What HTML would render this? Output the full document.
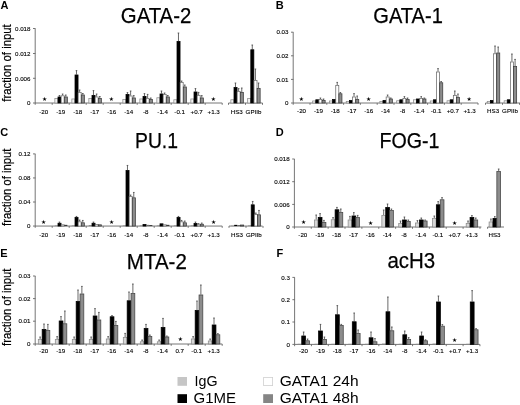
<!DOCTYPE html>
<html><head><meta charset="utf-8"><title>ChIP figure</title>
<style>
html,body{margin:0;padding:0;background:#fff;}
body{width:520px;height:405px;overflow:hidden;}
svg{display:block;font-family:"Liberation Sans","DejaVu Sans",sans-serif;filter:blur(0.5px);}
</style></head><body>
<svg width="520" height="405" viewBox="0 0 520 405">
<rect width="520" height="405" fill="#fff"/>
<text x="0.6" y="9" font-size="11" font-weight="bold" fill="#000">A</text>
<text x="120.8" y="23" font-size="22.5" stroke="#000" stroke-width="0.25" textLength="70.5" lengthAdjust="spacingAndGlyphs" fill="#000">GATA-2</text>
<path d="M35.2 28.5 V103 H222.2" stroke="#666" stroke-width="0.9" fill="none"/>
<text x="30.5" y="105.2" font-size="6.2" text-anchor="end" fill="#000" stroke="#000" stroke-width="0.12">0</text>
<text x="30.5" y="80.5" font-size="6.2" text-anchor="end" fill="#000" stroke="#000" stroke-width="0.12">0.006</text>
<text x="30.5" y="55.7" font-size="6.2" text-anchor="end" fill="#000" stroke="#000" stroke-width="0.12">0.012</text>
<text x="30.5" y="30.7" font-size="6.2" text-anchor="end" fill="#000" stroke="#000" stroke-width="0.12">0.018</text>
<path d="M33 103 h2.4M33 78.3 h2.4M33 53.5 h2.4M33 28.5 h2.4M35.2 103 v1.8M52.2 103 v1.8M69.2 103 v1.8M86.2 103 v1.8M103.2 103 v1.8M120.2 103 v1.8M137.2 103 v1.8M154.2 103 v1.8M171.2 103 v1.8M188.2 103 v1.8M205.2 103 v1.8M222.2 103 v1.8M228.5 103 H262.5M228.5 103 v1.8M245.5 103 v1.8M262.5 103 v1.8" stroke="#666" stroke-width="0.9" fill="none"/>
<text transform="translate(11 101.7) rotate(-90)" font-size="12.2" stroke="#000" stroke-width="0.2" textLength="77.4" lengthAdjust="spacingAndGlyphs" fill="#000">fraction of input</text>
<text x="43.7" y="113.6" font-size="6.2" text-anchor="middle" fill="#000" stroke="#000" stroke-width="0.12">-20</text>
<text x="44.7" y="101.15" font-size="5.8" text-anchor="middle" fill="#000">★</text>
<text x="60.7" y="113.6" font-size="6.2" text-anchor="middle" fill="#000" stroke="#000" stroke-width="0.12">-19</text>
<rect x="54.85" y="98.37" width="3.05" height="4.63" fill="#f4f4f4" stroke="#8a8a8a" stroke-width="0.75"/>
<path d="M59.48 96.6 V95.5 M58.68 95.5 h1.6" stroke="#444" stroke-width="0.8" fill="none"/>
<rect x="58" y="96.97" width="3.05" height="6.03" fill="#000" stroke="#000" stroke-width="0.75"/>
<path d="M62.62 95.4 V94 M61.83 94 h1.6" stroke="#444" stroke-width="0.8" fill="none"/>
<rect x="61.15" y="95.77" width="3.05" height="7.23" fill="#fff" stroke="#6a6a6a" stroke-width="0.75"/>
<path d="M65.78 96.6 V95 M64.98 95 h1.6" stroke="#444" stroke-width="0.8" fill="none"/>
<rect x="64.3" y="96.97" width="3.05" height="6.03" fill="#8c8c8c" stroke="#3a3a3a" stroke-width="0.75"/>
<text x="77.7" y="113.6" font-size="6.2" text-anchor="middle" fill="#000" stroke="#000" stroke-width="0.12">-18</text>
<rect x="71.85" y="98.97" width="3.05" height="4.03" fill="#f4f4f4" stroke="#8a8a8a" stroke-width="0.75"/>
<path d="M76.48 74.6 V70.6 M75.68 70.6 h1.6" stroke="#444" stroke-width="0.8" fill="none"/>
<rect x="75" y="74.97" width="3.05" height="28.03" fill="#000" stroke="#000" stroke-width="0.75"/>
<path d="M79.62 92 V90 M78.83 90 h1.6" stroke="#444" stroke-width="0.8" fill="none"/>
<rect x="78.15" y="92.37" width="3.05" height="10.63" fill="#fff" stroke="#6a6a6a" stroke-width="0.75"/>
<path d="M82.78 94.6 V93.5 M81.98 93.5 h1.6" stroke="#444" stroke-width="0.8" fill="none"/>
<rect x="81.3" y="94.97" width="3.05" height="8.03" fill="#8c8c8c" stroke="#3a3a3a" stroke-width="0.75"/>
<text x="94.7" y="113.6" font-size="6.2" text-anchor="middle" fill="#000" stroke="#000" stroke-width="0.12">-17</text>
<rect x="88.85" y="98.37" width="3.05" height="4.63" fill="#f4f4f4" stroke="#8a8a8a" stroke-width="0.75"/>
<path d="M93.48 95 V90.6 M92.68 90.6 h1.6" stroke="#444" stroke-width="0.8" fill="none"/>
<rect x="92" y="95.37" width="3.05" height="7.63" fill="#000" stroke="#000" stroke-width="0.75"/>
<path d="M96.62 96.6 V94 M95.83 94 h1.6" stroke="#444" stroke-width="0.8" fill="none"/>
<rect x="95.15" y="96.97" width="3.05" height="6.03" fill="#fff" stroke="#6a6a6a" stroke-width="0.75"/>
<path d="M99.78 98 V96.5 M98.98 96.5 h1.6" stroke="#444" stroke-width="0.8" fill="none"/>
<rect x="98.3" y="98.37" width="3.05" height="4.63" fill="#8c8c8c" stroke="#3a3a3a" stroke-width="0.75"/>
<text x="111.7" y="113.6" font-size="6.2" text-anchor="middle" fill="#000" stroke="#000" stroke-width="0.12">-16</text>
<text x="111.4" y="101.05" font-size="5.8" text-anchor="middle" fill="#000">★</text>
<text x="128.7" y="113.6" font-size="6.2" text-anchor="middle" fill="#000" stroke="#000" stroke-width="0.12">-14</text>
<rect x="122.85" y="99.37" width="3.05" height="3.63" fill="#f4f4f4" stroke="#8a8a8a" stroke-width="0.75"/>
<path d="M127.48 94 V92.6 M126.68 92.6 h1.6" stroke="#444" stroke-width="0.8" fill="none"/>
<rect x="126" y="94.37" width="3.05" height="8.63" fill="#000" stroke="#000" stroke-width="0.75"/>
<path d="M130.62 95.6 V91 M129.82 91 h1.6" stroke="#444" stroke-width="0.8" fill="none"/>
<rect x="129.15" y="95.97" width="3.05" height="7.03" fill="#fff" stroke="#6a6a6a" stroke-width="0.75"/>
<path d="M133.77 97.6 V95.6 M132.97 95.6 h1.6" stroke="#444" stroke-width="0.8" fill="none"/>
<rect x="132.3" y="97.97" width="3.05" height="5.03" fill="#8c8c8c" stroke="#3a3a3a" stroke-width="0.75"/>
<text x="145.7" y="113.6" font-size="6.2" text-anchor="middle" fill="#000" stroke="#000" stroke-width="0.12">-8</text>
<rect x="139.85" y="98.97" width="3.05" height="4.03" fill="#f4f4f4" stroke="#8a8a8a" stroke-width="0.75"/>
<path d="M144.47 96 V93.6 M143.67 93.6 h1.6" stroke="#444" stroke-width="0.8" fill="none"/>
<rect x="143" y="96.37" width="3.05" height="6.63" fill="#000" stroke="#000" stroke-width="0.75"/>
<path d="M147.62 98 V94.4 M146.82 94.4 h1.6" stroke="#444" stroke-width="0.8" fill="none"/>
<rect x="146.15" y="98.37" width="3.05" height="4.63" fill="#fff" stroke="#6a6a6a" stroke-width="0.75"/>
<path d="M150.77 99 V98 M149.97 98 h1.6" stroke="#444" stroke-width="0.8" fill="none"/>
<rect x="149.3" y="99.37" width="3.05" height="3.63" fill="#8c8c8c" stroke="#3a3a3a" stroke-width="0.75"/>
<text x="162.7" y="113.6" font-size="6.2" text-anchor="middle" fill="#000" stroke="#000" stroke-width="0.12">-1.4</text>
<rect x="156.85" y="97.77" width="3.05" height="5.23" fill="#f4f4f4" stroke="#8a8a8a" stroke-width="0.75"/>
<path d="M161.47 93.6 V91 M160.67 91 h1.6" stroke="#444" stroke-width="0.8" fill="none"/>
<rect x="160" y="93.97" width="3.05" height="9.03" fill="#000" stroke="#000" stroke-width="0.75"/>
<path d="M164.62 94 V93 M163.82 93 h1.6" stroke="#444" stroke-width="0.8" fill="none"/>
<rect x="163.15" y="94.37" width="3.05" height="8.63" fill="#fff" stroke="#6a6a6a" stroke-width="0.75"/>
<path d="M167.77 96.6 V95.5 M166.97 95.5 h1.6" stroke="#444" stroke-width="0.8" fill="none"/>
<rect x="166.3" y="96.97" width="3.05" height="6.03" fill="#8c8c8c" stroke="#3a3a3a" stroke-width="0.75"/>
<text x="179.7" y="113.6" font-size="6.2" text-anchor="middle" fill="#000" stroke="#000" stroke-width="0.12">-0.1</text>
<rect x="173.85" y="99.77" width="3.05" height="3.23" fill="#f4f4f4" stroke="#8a8a8a" stroke-width="0.75"/>
<path d="M178.47 41 V33 M177.67 33 h1.6" stroke="#444" stroke-width="0.8" fill="none"/>
<rect x="177" y="41.37" width="3.05" height="61.63" fill="#000" stroke="#000" stroke-width="0.75"/>
<path d="M181.62 82 V81 M180.82 81 h1.6" stroke="#444" stroke-width="0.8" fill="none"/>
<rect x="180.15" y="82.37" width="3.05" height="20.63" fill="#fff" stroke="#6a6a6a" stroke-width="0.75"/>
<path d="M184.77 86.6 V85 M183.97 85 h1.6" stroke="#444" stroke-width="0.8" fill="none"/>
<rect x="183.3" y="86.97" width="3.05" height="16.03" fill="#8c8c8c" stroke="#3a3a3a" stroke-width="0.75"/>
<text x="196.7" y="113.6" font-size="6.2" text-anchor="middle" fill="#000" stroke="#000" stroke-width="0.12">+0.7</text>
<rect x="190.85" y="98.97" width="3.05" height="4.03" fill="#f4f4f4" stroke="#8a8a8a" stroke-width="0.75"/>
<path d="M195.47 91.6 V88.6 M194.67 88.6 h1.6" stroke="#444" stroke-width="0.8" fill="none"/>
<rect x="194" y="91.97" width="3.05" height="11.03" fill="#000" stroke="#000" stroke-width="0.75"/>
<path d="M198.62 95 V92.4 M197.82 92.4 h1.6" stroke="#444" stroke-width="0.8" fill="none"/>
<rect x="197.15" y="95.37" width="3.05" height="7.63" fill="#fff" stroke="#6a6a6a" stroke-width="0.75"/>
<path d="M201.77 97.6 V95.6 M200.97 95.6 h1.6" stroke="#444" stroke-width="0.8" fill="none"/>
<rect x="200.3" y="97.97" width="3.05" height="5.03" fill="#8c8c8c" stroke="#3a3a3a" stroke-width="0.75"/>
<text x="213.7" y="113.6" font-size="6.2" text-anchor="middle" fill="#000" stroke="#000" stroke-width="0.12">+1.3</text>
<text x="213.4" y="100.55" font-size="5.8" text-anchor="middle" fill="#000">★</text>
<text x="236.7" y="113.6" font-size="6.2" text-anchor="middle" fill="#000" stroke="#000" stroke-width="0.12">HS3</text>
<rect x="230.85" y="99.77" width="3.05" height="3.23" fill="#f4f4f4" stroke="#8a8a8a" stroke-width="0.75"/>
<path d="M235.47 87 V83 M234.67 83 h1.6" stroke="#444" stroke-width="0.8" fill="none"/>
<rect x="234" y="87.37" width="3.05" height="15.63" fill="#000" stroke="#000" stroke-width="0.75"/>
<path d="M238.62 91 V88.6 M237.82 88.6 h1.6" stroke="#444" stroke-width="0.8" fill="none"/>
<rect x="237.15" y="91.37" width="3.05" height="11.63" fill="#fff" stroke="#6a6a6a" stroke-width="0.75"/>
<path d="M241.77 92 V88 M240.97 88 h1.6" stroke="#444" stroke-width="0.8" fill="none"/>
<rect x="240.3" y="92.37" width="3.05" height="10.63" fill="#8c8c8c" stroke="#3a3a3a" stroke-width="0.75"/>
<text x="253.5" y="113.6" font-size="6.2" text-anchor="middle" fill="#000" stroke="#000" stroke-width="0.12">GPIIb</text>
<rect x="247.65" y="98.37" width="3.05" height="4.63" fill="#f4f4f4" stroke="#8a8a8a" stroke-width="0.75"/>
<path d="M252.28 49.4 V45 M251.47 45 h1.6" stroke="#444" stroke-width="0.8" fill="none"/>
<rect x="250.8" y="49.77" width="3.05" height="53.23" fill="#000" stroke="#000" stroke-width="0.75"/>
<path d="M255.43 80 V69 M254.62 69 h1.6" stroke="#444" stroke-width="0.8" fill="none"/>
<rect x="253.95" y="80.37" width="3.05" height="22.63" fill="#fff" stroke="#6a6a6a" stroke-width="0.75"/>
<path d="M258.57 88 V83 M257.77 83 h1.6" stroke="#444" stroke-width="0.8" fill="none"/>
<rect x="257.1" y="88.37" width="3.05" height="14.63" fill="#8c8c8c" stroke="#3a3a3a" stroke-width="0.75"/>
<text x="275.8" y="9" font-size="11" font-weight="bold" fill="#000">B</text>
<text x="373.3" y="23" font-size="22.5" stroke="#000" stroke-width="0.25" textLength="69.5" lengthAdjust="spacingAndGlyphs" fill="#000">GATA-1</text>
<path d="M293.2 32.2 V103 H478" stroke="#666" stroke-width="0.9" fill="none"/>
<text x="288.5" y="105.2" font-size="6.2" text-anchor="end" fill="#000" stroke="#000" stroke-width="0.12">0</text>
<text x="288.5" y="81.6" font-size="6.2" text-anchor="end" fill="#000" stroke="#000" stroke-width="0.12">0.01</text>
<text x="288.5" y="58" font-size="6.2" text-anchor="end" fill="#000" stroke="#000" stroke-width="0.12">0.02</text>
<text x="288.5" y="34.4" font-size="6.2" text-anchor="end" fill="#000" stroke="#000" stroke-width="0.12">0.03</text>
<path d="M291 103 h2.4M291 79.4 h2.4M291 55.8 h2.4M291 32.2 h2.4M293.2 103 v1.8M310 103 v1.8M326.8 103 v1.8M343.6 103 v1.8M360.4 103 v1.8M377.2 103 v1.8M394 103 v1.8M410.8 103 v1.8M427.6 103 v1.8M444.4 103 v1.8M461.2 103 v1.8M478 103 v1.8M485.5 103 H521M485.5 103 v1.8M502.5 103 v1.8M519.5 103 v1.8" stroke="#666" stroke-width="0.9" fill="none"/>
<text x="301.6" y="113.4" font-size="6.2" text-anchor="middle" fill="#000" stroke="#000" stroke-width="0.12">-20</text>
<text x="301.4" y="100.95" font-size="5.8" text-anchor="middle" fill="#000">★</text>
<text x="318.4" y="113.4" font-size="6.2" text-anchor="middle" fill="#000" stroke="#000" stroke-width="0.12">-19</text>
<rect x="312.65" y="100.97" width="3.05" height="2.03" fill="#f4f4f4" stroke="#8a8a8a" stroke-width="0.75"/>
<rect x="315.8" y="99.77" width="3.05" height="3.23" fill="#000" stroke="#000" stroke-width="0.75"/>
<path d="M320.43 99 V98 M319.62 98 h1.6" stroke="#444" stroke-width="0.8" fill="none"/>
<rect x="318.95" y="99.37" width="3.05" height="3.63" fill="#fff" stroke="#6a6a6a" stroke-width="0.75"/>
<path d="M323.57 100 V99 M322.77 99 h1.6" stroke="#444" stroke-width="0.8" fill="none"/>
<rect x="322.1" y="100.37" width="3.05" height="2.63" fill="#8c8c8c" stroke="#3a3a3a" stroke-width="0.75"/>
<text x="335.2" y="113.4" font-size="6.2" text-anchor="middle" fill="#000" stroke="#000" stroke-width="0.12">-18</text>
<rect x="329.45" y="100.97" width="3.05" height="2.03" fill="#f4f4f4" stroke="#8a8a8a" stroke-width="0.75"/>
<rect x="332.6" y="99.37" width="3.05" height="3.63" fill="#000" stroke="#000" stroke-width="0.75"/>
<path d="M337.23 85 V82.4 M336.43 82.4 h1.6" stroke="#444" stroke-width="0.8" fill="none"/>
<rect x="335.75" y="85.37" width="3.05" height="17.63" fill="#fff" stroke="#6a6a6a" stroke-width="0.75"/>
<path d="M340.38 93.4 V92.5 M339.57 92.5 h1.6" stroke="#444" stroke-width="0.8" fill="none"/>
<rect x="338.9" y="93.77" width="3.05" height="9.23" fill="#8c8c8c" stroke="#3a3a3a" stroke-width="0.75"/>
<text x="352" y="113.4" font-size="6.2" text-anchor="middle" fill="#000" stroke="#000" stroke-width="0.12">-17</text>
<rect x="346.25" y="101.37" width="3.05" height="1.63" fill="#f4f4f4" stroke="#8a8a8a" stroke-width="0.75"/>
<rect x="349.4" y="100.37" width="3.05" height="2.63" fill="#000" stroke="#000" stroke-width="0.75"/>
<path d="M354.03 96.6 V93.6 M353.23 93.6 h1.6" stroke="#444" stroke-width="0.8" fill="none"/>
<rect x="352.55" y="96.97" width="3.05" height="6.03" fill="#fff" stroke="#6a6a6a" stroke-width="0.75"/>
<path d="M357.18 99 V96 M356.38 96 h1.6" stroke="#444" stroke-width="0.8" fill="none"/>
<rect x="355.7" y="99.37" width="3.05" height="3.63" fill="#8c8c8c" stroke="#3a3a3a" stroke-width="0.75"/>
<text x="368.8" y="113.4" font-size="6.2" text-anchor="middle" fill="#000" stroke="#000" stroke-width="0.12">-16</text>
<text x="368.6" y="100.95" font-size="5.8" text-anchor="middle" fill="#000">★</text>
<text x="385.6" y="113.4" font-size="6.2" text-anchor="middle" fill="#000" stroke="#000" stroke-width="0.12">-14</text>
<rect x="379.85" y="101.37" width="3.05" height="1.63" fill="#f4f4f4" stroke="#8a8a8a" stroke-width="0.75"/>
<rect x="383" y="100.37" width="3.05" height="2.63" fill="#000" stroke="#000" stroke-width="0.75"/>
<path d="M387.62 96.6 V95 M386.82 95 h1.6" stroke="#444" stroke-width="0.8" fill="none"/>
<rect x="386.15" y="96.97" width="3.05" height="6.03" fill="#fff" stroke="#6a6a6a" stroke-width="0.75"/>
<path d="M390.77 98.6 V98 M389.97 98 h1.6" stroke="#444" stroke-width="0.8" fill="none"/>
<rect x="389.3" y="98.97" width="3.05" height="4.03" fill="#8c8c8c" stroke="#3a3a3a" stroke-width="0.75"/>
<text x="402.4" y="113.4" font-size="6.2" text-anchor="middle" fill="#000" stroke="#000" stroke-width="0.12">-8</text>
<rect x="396.65" y="100.77" width="3.05" height="2.23" fill="#f4f4f4" stroke="#8a8a8a" stroke-width="0.75"/>
<rect x="399.8" y="99.77" width="3.05" height="3.23" fill="#000" stroke="#000" stroke-width="0.75"/>
<path d="M404.43 98 V96.6 M403.62 96.6 h1.6" stroke="#444" stroke-width="0.8" fill="none"/>
<rect x="402.95" y="98.37" width="3.05" height="4.63" fill="#fff" stroke="#6a6a6a" stroke-width="0.75"/>
<path d="M407.57 99 V98 M406.77 98 h1.6" stroke="#444" stroke-width="0.8" fill="none"/>
<rect x="406.1" y="99.37" width="3.05" height="3.63" fill="#8c8c8c" stroke="#3a3a3a" stroke-width="0.75"/>
<text x="419.2" y="113.4" font-size="6.2" text-anchor="middle" fill="#000" stroke="#000" stroke-width="0.12">-1.4</text>
<rect x="413.45" y="99.77" width="3.05" height="3.23" fill="#f4f4f4" stroke="#8a8a8a" stroke-width="0.75"/>
<rect x="416.6" y="98.97" width="3.05" height="4.03" fill="#000" stroke="#000" stroke-width="0.75"/>
<path d="M421.23 98 V96.6 M420.43 96.6 h1.6" stroke="#444" stroke-width="0.8" fill="none"/>
<rect x="419.75" y="98.37" width="3.05" height="4.63" fill="#fff" stroke="#6a6a6a" stroke-width="0.75"/>
<path d="M424.38 98.6 V98 M423.57 98 h1.6" stroke="#444" stroke-width="0.8" fill="none"/>
<rect x="422.9" y="98.97" width="3.05" height="4.03" fill="#8c8c8c" stroke="#3a3a3a" stroke-width="0.75"/>
<text x="436" y="113.4" font-size="6.2" text-anchor="middle" fill="#000" stroke="#000" stroke-width="0.12">-0.1</text>
<rect x="430.25" y="100.97" width="3.05" height="2.03" fill="#f4f4f4" stroke="#8a8a8a" stroke-width="0.75"/>
<rect x="433.4" y="99.77" width="3.05" height="3.23" fill="#000" stroke="#000" stroke-width="0.75"/>
<path d="M438.03 71.6 V68.6 M437.23 68.6 h1.6" stroke="#444" stroke-width="0.8" fill="none"/>
<rect x="436.55" y="71.97" width="3.05" height="31.03" fill="#fff" stroke="#6a6a6a" stroke-width="0.75"/>
<path d="M441.18 82.4 V81.5 M440.38 81.5 h1.6" stroke="#444" stroke-width="0.8" fill="none"/>
<rect x="439.7" y="82.77" width="3.05" height="20.23" fill="#8c8c8c" stroke="#3a3a3a" stroke-width="0.75"/>
<text x="452.8" y="113.4" font-size="6.2" text-anchor="middle" fill="#000" stroke="#000" stroke-width="0.12">+0.7</text>
<rect x="447.05" y="100.77" width="3.05" height="2.23" fill="#f4f4f4" stroke="#8a8a8a" stroke-width="0.75"/>
<rect x="450.2" y="99.77" width="3.05" height="3.23" fill="#000" stroke="#000" stroke-width="0.75"/>
<path d="M454.82 95 V91 M454.02 91 h1.6" stroke="#444" stroke-width="0.8" fill="none"/>
<rect x="453.35" y="95.37" width="3.05" height="7.63" fill="#fff" stroke="#6a6a6a" stroke-width="0.75"/>
<path d="M457.97 97 V94 M457.17 94 h1.6" stroke="#444" stroke-width="0.8" fill="none"/>
<rect x="456.5" y="97.37" width="3.05" height="5.63" fill="#8c8c8c" stroke="#3a3a3a" stroke-width="0.75"/>
<text x="469.6" y="113.4" font-size="6.2" text-anchor="middle" fill="#000" stroke="#000" stroke-width="0.12">+1.3</text>
<text x="469" y="100.95" font-size="5.8" text-anchor="middle" fill="#000">★</text>
<text x="493.1" y="113.4" font-size="6.2" text-anchor="middle" fill="#000" stroke="#000" stroke-width="0.12">HS3</text>
<rect x="487.25" y="101.37" width="3.05" height="1.63" fill="#f4f4f4" stroke="#8a8a8a" stroke-width="0.75"/>
<rect x="490.4" y="100.37" width="3.05" height="2.63" fill="#000" stroke="#000" stroke-width="0.75"/>
<path d="M495.03 53.4 V46 M494.23 46 h1.6" stroke="#444" stroke-width="0.8" fill="none"/>
<rect x="493.55" y="53.77" width="3.05" height="49.23" fill="#fff" stroke="#6a6a6a" stroke-width="0.75"/>
<path d="M498.18 52.6 V47 M497.38 47 h1.6" stroke="#444" stroke-width="0.8" fill="none"/>
<rect x="496.7" y="52.97" width="3.05" height="50.03" fill="#8c8c8c" stroke="#3a3a3a" stroke-width="0.75"/>
<text x="510" y="113.4" font-size="6.2" text-anchor="middle" fill="#000" stroke="#000" stroke-width="0.12">GPIIb</text>
<rect x="504.15" y="100.77" width="3.05" height="2.23" fill="#f4f4f4" stroke="#8a8a8a" stroke-width="0.75"/>
<rect x="507.3" y="99.77" width="3.05" height="3.23" fill="#000" stroke="#000" stroke-width="0.75"/>
<path d="M511.93 61.6 V54 M511.12 54 h1.6" stroke="#444" stroke-width="0.8" fill="none"/>
<rect x="510.45" y="61.97" width="3.05" height="41.03" fill="#fff" stroke="#6a6a6a" stroke-width="0.75"/>
<path d="M515.08 66 V59.4 M514.28 59.4 h1.6" stroke="#444" stroke-width="0.8" fill="none"/>
<rect x="513.6" y="66.37" width="3.05" height="36.63" fill="#8c8c8c" stroke="#3a3a3a" stroke-width="0.75"/>
<text x="0.2" y="135.8" font-size="11" font-weight="bold" fill="#000">C</text>
<text x="135" y="148.2" font-size="22.5" stroke="#000" stroke-width="0.25" textLength="43" lengthAdjust="spacingAndGlyphs" fill="#000">PU.1</text>
<path d="M35.2 153.9 V226.05 H222.2" stroke="#666" stroke-width="0.9" fill="none"/>
<text x="30.5" y="228.25" font-size="6.2" text-anchor="end" fill="#000" stroke="#000" stroke-width="0.12">0</text>
<text x="30.5" y="204.2" font-size="6.2" text-anchor="end" fill="#000" stroke="#000" stroke-width="0.12">0.04</text>
<text x="30.5" y="180.15" font-size="6.2" text-anchor="end" fill="#000" stroke="#000" stroke-width="0.12">0.08</text>
<text x="30.5" y="156.1" font-size="6.2" text-anchor="end" fill="#000" stroke="#000" stroke-width="0.12">0.12</text>
<path d="M33 226.05 h2.4M33 202 h2.4M33 177.95 h2.4M33 153.9 h2.4M35.2 226.05 v1.8M52.2 226.05 v1.8M69.2 226.05 v1.8M86.2 226.05 v1.8M103.2 226.05 v1.8M120.2 226.05 v1.8M137.2 226.05 v1.8M154.2 226.05 v1.8M171.2 226.05 v1.8M188.2 226.05 v1.8M205.2 226.05 v1.8M222.2 226.05 v1.8M229 226.05 H262.5M229 226.05 v1.8M246 226.05 v1.8M263 226.05 v1.8" stroke="#666" stroke-width="0.9" fill="none"/>
<text transform="translate(11 225.9) rotate(-90)" font-size="12.2" stroke="#000" stroke-width="0.2" textLength="77.4" lengthAdjust="spacingAndGlyphs" fill="#000">fraction of input</text>
<text x="43.7" y="236.7" font-size="6.2" text-anchor="middle" fill="#000" stroke="#000" stroke-width="0.12">-20</text>
<text x="43.7" y="224.15" font-size="5.8" text-anchor="middle" fill="#000">★</text>
<text x="60.7" y="236.7" font-size="6.2" text-anchor="middle" fill="#000" stroke="#000" stroke-width="0.12">-19</text>
<rect x="54.75" y="225.45" width="3.15" height="0.6" fill="#8a8a8a"/>
<path d="M59.48 222.85 V222.05 M58.68 222.05 h1.6" stroke="#444" stroke-width="0.8" fill="none"/>
<rect x="58" y="223.22" width="3.05" height="2.83" fill="#000" stroke="#000" stroke-width="0.75"/>
<rect x="61.15" y="224.82" width="3.05" height="1.23" fill="#fff" stroke="#6a6a6a" stroke-width="0.75"/>
<rect x="64.2" y="224.85" width="3.15" height="1.2" fill="#3a3a3a"/>
<text x="77.7" y="236.7" font-size="6.2" text-anchor="middle" fill="#000" stroke="#000" stroke-width="0.12">-18</text>
<rect x="71.75" y="225.45" width="3.15" height="0.6" fill="#8a8a8a"/>
<path d="M76.48 217.05 V216.45 M75.68 216.45 h1.6" stroke="#444" stroke-width="0.8" fill="none"/>
<rect x="75" y="217.42" width="3.05" height="8.63" fill="#000" stroke="#000" stroke-width="0.75"/>
<path d="M79.62 221.45 V220.05 M78.83 220.05 h1.6" stroke="#444" stroke-width="0.8" fill="none"/>
<rect x="78.15" y="221.82" width="3.05" height="4.23" fill="#fff" stroke="#6a6a6a" stroke-width="0.75"/>
<path d="M82.78 222.45 V220.45 M81.98 220.45 h1.6" stroke="#444" stroke-width="0.8" fill="none"/>
<rect x="81.3" y="222.82" width="3.05" height="3.23" fill="#8c8c8c" stroke="#3a3a3a" stroke-width="0.75"/>
<text x="94.7" y="236.7" font-size="6.2" text-anchor="middle" fill="#000" stroke="#000" stroke-width="0.12">-17</text>
<rect x="88.75" y="225.05" width="3.15" height="1" fill="#8a8a8a"/>
<path d="M93.48 222.85 V222.05 M92.68 222.05 h1.6" stroke="#444" stroke-width="0.8" fill="none"/>
<rect x="92" y="223.22" width="3.05" height="2.83" fill="#000" stroke="#000" stroke-width="0.75"/>
<rect x="95.15" y="224.42" width="3.05" height="1.63" fill="#fff" stroke="#6a6a6a" stroke-width="0.75"/>
<rect x="98.3" y="224.82" width="3.05" height="1.23" fill="#8c8c8c" stroke="#3a3a3a" stroke-width="0.75"/>
<text x="111.7" y="236.7" font-size="6.2" text-anchor="middle" fill="#000" stroke="#000" stroke-width="0.12">-16</text>
<text x="111.6" y="224.15" font-size="5.8" text-anchor="middle" fill="#000">★</text>
<text x="128.7" y="236.7" font-size="6.2" text-anchor="middle" fill="#000" stroke="#000" stroke-width="0.12">-14</text>
<rect x="122.75" y="225.45" width="3.15" height="0.6" fill="#8a8a8a"/>
<path d="M127.48 170.05 V165.45 M126.68 165.45 h1.6" stroke="#444" stroke-width="0.8" fill="none"/>
<rect x="126" y="170.42" width="3.05" height="55.63" fill="#000" stroke="#000" stroke-width="0.75"/>
<path d="M130.62 196.25 V195.05 M129.82 195.05 h1.6" stroke="#444" stroke-width="0.8" fill="none"/>
<rect x="129.15" y="196.62" width="3.05" height="29.43" fill="#fff" stroke="#6a6a6a" stroke-width="0.75"/>
<path d="M133.77 197.45 V192.45 M132.97 192.45 h1.6" stroke="#444" stroke-width="0.8" fill="none"/>
<rect x="132.3" y="197.82" width="3.05" height="28.23" fill="#8c8c8c" stroke="#3a3a3a" stroke-width="0.75"/>
<text x="145.7" y="236.7" font-size="6.2" text-anchor="middle" fill="#000" stroke="#000" stroke-width="0.12">-8</text>
<rect x="139.75" y="225.45" width="3.15" height="0.6" fill="#8a8a8a"/>
<rect x="143" y="224.42" width="3.05" height="1.63" fill="#000" stroke="#000" stroke-width="0.75"/>
<rect x="146.05" y="224.85" width="3.15" height="1.2" fill="#6a6a6a"/>
<rect x="149.2" y="225.05" width="3.15" height="1" fill="#3a3a3a"/>
<text x="162.7" y="236.7" font-size="6.2" text-anchor="middle" fill="#000" stroke="#000" stroke-width="0.12">-1.4</text>
<rect x="156.75" y="225.45" width="3.15" height="0.6" fill="#8a8a8a"/>
<rect x="160" y="223.82" width="3.05" height="2.23" fill="#000" stroke="#000" stroke-width="0.75"/>
<rect x="163.15" y="224.82" width="3.05" height="1.23" fill="#fff" stroke="#6a6a6a" stroke-width="0.75"/>
<rect x="166.2" y="224.85" width="3.15" height="1.2" fill="#3a3a3a"/>
<text x="179.7" y="236.7" font-size="6.2" text-anchor="middle" fill="#000" stroke="#000" stroke-width="0.12">-0.1</text>
<rect x="173.75" y="225.45" width="3.15" height="0.6" fill="#8a8a8a"/>
<path d="M178.47 217.05 V216.45 M177.67 216.45 h1.6" stroke="#444" stroke-width="0.8" fill="none"/>
<rect x="177" y="217.42" width="3.05" height="8.63" fill="#000" stroke="#000" stroke-width="0.75"/>
<path d="M181.62 221.45 V220.45 M180.82 220.45 h1.6" stroke="#444" stroke-width="0.8" fill="none"/>
<rect x="180.15" y="221.82" width="3.05" height="4.23" fill="#fff" stroke="#6a6a6a" stroke-width="0.75"/>
<path d="M184.77 222.45 V221.05 M183.97 221.05 h1.6" stroke="#444" stroke-width="0.8" fill="none"/>
<rect x="183.3" y="222.82" width="3.05" height="3.23" fill="#8c8c8c" stroke="#3a3a3a" stroke-width="0.75"/>
<text x="196.7" y="236.7" font-size="6.2" text-anchor="middle" fill="#000" stroke="#000" stroke-width="0.12">+0.7</text>
<rect x="190.75" y="225.45" width="3.15" height="0.6" fill="#8a8a8a"/>
<path d="M195.47 223.05 V222.05 M194.67 222.05 h1.6" stroke="#444" stroke-width="0.8" fill="none"/>
<rect x="194" y="223.42" width="3.05" height="2.63" fill="#000" stroke="#000" stroke-width="0.75"/>
<path d="M198.62 224.45 V223.65 M197.82 223.65 h1.6" stroke="#444" stroke-width="0.8" fill="none"/>
<rect x="197.15" y="224.82" width="3.05" height="1.23" fill="#fff" stroke="#6a6a6a" stroke-width="0.75"/>
<path d="M201.77 223.85 V223.05 M200.97 223.05 h1.6" stroke="#444" stroke-width="0.8" fill="none"/>
<rect x="200.3" y="224.22" width="3.05" height="1.83" fill="#8c8c8c" stroke="#3a3a3a" stroke-width="0.75"/>
<text x="213.7" y="236.7" font-size="6.2" text-anchor="middle" fill="#000" stroke="#000" stroke-width="0.12">+1.3</text>
<text x="213.6" y="223.85" font-size="5.8" text-anchor="middle" fill="#000">★</text>
<text x="237" y="236.7" font-size="6.2" text-anchor="middle" fill="#000" stroke="#000" stroke-width="0.12">HS3</text>
<rect x="231.05" y="225.65" width="3.15" height="0.4" fill="#8a8a8a"/>
<rect x="234.2" y="224.85" width="3.15" height="1.2" fill="#000"/>
<rect x="237.35" y="225.05" width="3.15" height="1" fill="#6a6a6a"/>
<rect x="240.6" y="225.02" width="3.05" height="1.03" fill="#8c8c8c" stroke="#3a3a3a" stroke-width="0.75"/>
<text x="253.9" y="236.7" font-size="6.2" text-anchor="middle" fill="#000" stroke="#000" stroke-width="0.12">GPIIb</text>
<rect x="247.95" y="225.45" width="3.15" height="0.6" fill="#8a8a8a"/>
<path d="M252.68 204.45 V201.45 M251.88 201.45 h1.6" stroke="#444" stroke-width="0.8" fill="none"/>
<rect x="251.2" y="204.82" width="3.05" height="21.23" fill="#000" stroke="#000" stroke-width="0.75"/>
<path d="M255.83 214.05 V213.05 M255.03 213.05 h1.6" stroke="#444" stroke-width="0.8" fill="none"/>
<rect x="254.35" y="214.42" width="3.05" height="11.63" fill="#fff" stroke="#6a6a6a" stroke-width="0.75"/>
<path d="M258.98 214.45 V210.45 M258.18 210.45 h1.6" stroke="#444" stroke-width="0.8" fill="none"/>
<rect x="257.5" y="214.82" width="3.05" height="11.23" fill="#8c8c8c" stroke="#3a3a3a" stroke-width="0.75"/>
<text x="275.8" y="135.6" font-size="11" font-weight="bold" fill="#000">D</text>
<text x="379.5" y="148" font-size="22.5" stroke="#000" stroke-width="0.25" textLength="60" lengthAdjust="spacingAndGlyphs" fill="#000">FOG-1</text>
<path d="M294.4 159 V227 H481.4" stroke="#666" stroke-width="0.9" fill="none"/>
<text x="289.7" y="229.2" font-size="6.2" text-anchor="end" fill="#000" stroke="#000" stroke-width="0.12">0</text>
<text x="289.7" y="206.6" font-size="6.2" text-anchor="end" fill="#000" stroke="#000" stroke-width="0.12">0.006</text>
<text x="289.7" y="183.9" font-size="6.2" text-anchor="end" fill="#000" stroke="#000" stroke-width="0.12">0.012</text>
<text x="289.7" y="161.2" font-size="6.2" text-anchor="end" fill="#000" stroke="#000" stroke-width="0.12">0.018</text>
<path d="M292.2 227 h2.4M292.2 204.4 h2.4M292.2 181.7 h2.4M292.2 159 h2.4M294.4 227 v1.8M311.27 227 v1.8M328.14 227 v1.8M345.01 227 v1.8M361.88 227 v1.8M378.75 227 v1.8M395.62 227 v1.8M412.49 227 v1.8M429.36 227 v1.8M446.23 227 v1.8M463.1 227 v1.8M479.97 227 v1.8M487.6 227 H504M487.6 227 v1.8" stroke="#666" stroke-width="0.9" fill="none"/>
<text x="302.83" y="237.2" font-size="6.2" text-anchor="middle" fill="#000" stroke="#000" stroke-width="0.12">-20</text>
<text x="303.6" y="224.45" font-size="5.8" text-anchor="middle" fill="#000">★</text>
<text x="319.7" y="237.2" font-size="6.2" text-anchor="middle" fill="#000" stroke="#000" stroke-width="0.12">-19</text>
<path d="M316.2 219.6 V215 M315.4 215 h1.6" stroke="#444" stroke-width="0.8" fill="none"/>
<rect x="314.37" y="219.97" width="3.77" height="7.03" fill="#d6d6d6" stroke="#8a8a8a" stroke-width="0.75"/>
<path d="M320.07 217 V213.6 M319.27 213.6 h1.6" stroke="#444" stroke-width="0.8" fill="none"/>
<rect x="318.24" y="217.37" width="3.77" height="9.63" fill="#000" stroke="#000" stroke-width="0.75"/>
<path d="M323.94 222 V220.4 M323.14 220.4 h1.6" stroke="#444" stroke-width="0.8" fill="none"/>
<rect x="322.11" y="222.37" width="3.77" height="4.63" fill="#8c8c8c" stroke="#444" stroke-width="0.75"/>
<text x="336.57" y="237.2" font-size="6.2" text-anchor="middle" fill="#000" stroke="#000" stroke-width="0.12">-18</text>
<path d="M333.07 219.4 V217.6 M332.27 217.6 h1.6" stroke="#444" stroke-width="0.8" fill="none"/>
<rect x="331.24" y="219.77" width="3.77" height="7.23" fill="#d6d6d6" stroke="#8a8a8a" stroke-width="0.75"/>
<path d="M336.94 209.4 V207.4 M336.14 207.4 h1.6" stroke="#444" stroke-width="0.8" fill="none"/>
<rect x="335.11" y="209.77" width="3.77" height="17.23" fill="#000" stroke="#000" stroke-width="0.75"/>
<path d="M340.81 212 V209 M340.01 209 h1.6" stroke="#444" stroke-width="0.8" fill="none"/>
<rect x="338.98" y="212.37" width="3.77" height="14.63" fill="#8c8c8c" stroke="#444" stroke-width="0.75"/>
<text x="353.44" y="237.2" font-size="6.2" text-anchor="middle" fill="#000" stroke="#000" stroke-width="0.12">-17</text>
<path d="M349.94 219.6 V216.4 M349.14 216.4 h1.6" stroke="#444" stroke-width="0.8" fill="none"/>
<rect x="348.11" y="219.97" width="3.77" height="7.03" fill="#d6d6d6" stroke="#8a8a8a" stroke-width="0.75"/>
<path d="M353.81 215.6 V212.6 M353.01 212.6 h1.6" stroke="#444" stroke-width="0.8" fill="none"/>
<rect x="351.98" y="215.97" width="3.77" height="11.03" fill="#000" stroke="#000" stroke-width="0.75"/>
<path d="M357.69 217 V215.4 M356.88 215.4 h1.6" stroke="#444" stroke-width="0.8" fill="none"/>
<rect x="355.85" y="217.37" width="3.77" height="9.63" fill="#8c8c8c" stroke="#444" stroke-width="0.75"/>
<text x="370.31" y="237.2" font-size="6.2" text-anchor="middle" fill="#000" stroke="#000" stroke-width="0.12">-16</text>
<text x="370.6" y="224.95" font-size="5.8" text-anchor="middle" fill="#000">★</text>
<text x="387.19" y="237.2" font-size="6.2" text-anchor="middle" fill="#000" stroke="#000" stroke-width="0.12">-14</text>
<path d="M383.69 215 V210 M382.88 210 h1.6" stroke="#444" stroke-width="0.8" fill="none"/>
<rect x="381.85" y="215.37" width="3.77" height="11.63" fill="#d6d6d6" stroke="#8a8a8a" stroke-width="0.75"/>
<path d="M387.56 207 V204 M386.75 204 h1.6" stroke="#444" stroke-width="0.8" fill="none"/>
<rect x="385.72" y="207.37" width="3.77" height="19.63" fill="#000" stroke="#000" stroke-width="0.75"/>
<path d="M391.43 210 V209 M390.62 209 h1.6" stroke="#444" stroke-width="0.8" fill="none"/>
<rect x="389.59" y="210.37" width="3.77" height="16.63" fill="#8c8c8c" stroke="#444" stroke-width="0.75"/>
<text x="404.06" y="237.2" font-size="6.2" text-anchor="middle" fill="#000" stroke="#000" stroke-width="0.12">-8</text>
<path d="M400.56 223 V221 M399.75 221 h1.6" stroke="#444" stroke-width="0.8" fill="none"/>
<rect x="398.72" y="223.37" width="3.77" height="3.63" fill="#d6d6d6" stroke="#8a8a8a" stroke-width="0.75"/>
<path d="M404.43 219.6 V217 M403.62 217 h1.6" stroke="#444" stroke-width="0.8" fill="none"/>
<rect x="402.59" y="219.97" width="3.77" height="7.03" fill="#000" stroke="#000" stroke-width="0.75"/>
<path d="M408.3 221 V220 M407.5 220 h1.6" stroke="#444" stroke-width="0.8" fill="none"/>
<rect x="406.46" y="221.37" width="3.77" height="5.63" fill="#8c8c8c" stroke="#444" stroke-width="0.75"/>
<text x="420.93" y="237.2" font-size="6.2" text-anchor="middle" fill="#000" stroke="#000" stroke-width="0.12">-1.4</text>
<path d="M417.43 222.6 V220.6 M416.62 220.6 h1.6" stroke="#444" stroke-width="0.8" fill="none"/>
<rect x="415.59" y="222.97" width="3.77" height="4.03" fill="#d6d6d6" stroke="#8a8a8a" stroke-width="0.75"/>
<path d="M421.3 219.6 V218 M420.5 218 h1.6" stroke="#444" stroke-width="0.8" fill="none"/>
<rect x="419.46" y="219.97" width="3.77" height="7.03" fill="#000" stroke="#000" stroke-width="0.75"/>
<path d="M425.17 220.6 V220 M424.37 220 h1.6" stroke="#444" stroke-width="0.8" fill="none"/>
<rect x="423.33" y="220.97" width="3.77" height="6.03" fill="#8c8c8c" stroke="#444" stroke-width="0.75"/>
<text x="437.8" y="237.2" font-size="6.2" text-anchor="middle" fill="#000" stroke="#000" stroke-width="0.12">-0.1</text>
<path d="M434.3 218 V216 M433.5 216 h1.6" stroke="#444" stroke-width="0.8" fill="none"/>
<rect x="432.46" y="218.37" width="3.77" height="8.63" fill="#d6d6d6" stroke="#8a8a8a" stroke-width="0.75"/>
<path d="M438.17 204.4 V201.6 M437.37 201.6 h1.6" stroke="#444" stroke-width="0.8" fill="none"/>
<rect x="436.33" y="204.77" width="3.77" height="22.23" fill="#000" stroke="#000" stroke-width="0.75"/>
<path d="M442.04 199.4 V197.6 M441.24 197.6 h1.6" stroke="#444" stroke-width="0.8" fill="none"/>
<rect x="440.2" y="199.77" width="3.77" height="27.23" fill="#8c8c8c" stroke="#444" stroke-width="0.75"/>
<text x="454.67" y="237.2" font-size="6.2" text-anchor="middle" fill="#000" stroke="#000" stroke-width="0.12">+0.7</text>
<text x="454.6" y="224.95" font-size="5.8" text-anchor="middle" fill="#000">★</text>
<text x="471.54" y="237.2" font-size="6.2" text-anchor="middle" fill="#000" stroke="#000" stroke-width="0.12">+1.3</text>
<path d="M468.04 223 V221 M467.24 221 h1.6" stroke="#444" stroke-width="0.8" fill="none"/>
<rect x="466.2" y="223.37" width="3.77" height="3.63" fill="#d6d6d6" stroke="#8a8a8a" stroke-width="0.75"/>
<path d="M471.91 217 V215.6 M471.11 215.6 h1.6" stroke="#444" stroke-width="0.8" fill="none"/>
<rect x="470.07" y="217.37" width="3.77" height="9.63" fill="#000" stroke="#000" stroke-width="0.75"/>
<path d="M475.78 219.6 V218 M474.98 218 h1.6" stroke="#444" stroke-width="0.8" fill="none"/>
<rect x="473.94" y="219.97" width="3.77" height="7.03" fill="#8c8c8c" stroke="#444" stroke-width="0.75"/>
<text x="494.5" y="237.2" font-size="6.2" text-anchor="middle" fill="#000" stroke="#000" stroke-width="0.12">HS3</text>
<path d="M490.94 221.6 V219 M490.13 219 h1.6" stroke="#444" stroke-width="0.8" fill="none"/>
<rect x="489.1" y="221.97" width="3.77" height="5.03" fill="#d6d6d6" stroke="#8a8a8a" stroke-width="0.75"/>
<path d="M494.81 218 V216.6 M494 216.6 h1.6" stroke="#444" stroke-width="0.8" fill="none"/>
<rect x="492.97" y="218.37" width="3.77" height="8.63" fill="#000" stroke="#000" stroke-width="0.75"/>
<path d="M498.68 171 V169 M497.88 169 h1.6" stroke="#444" stroke-width="0.8" fill="none"/>
<rect x="496.84" y="171.37" width="3.77" height="55.63" fill="#8c8c8c" stroke="#444" stroke-width="0.75"/>
<text x="0.2" y="257.2" font-size="11" font-weight="bold" fill="#000">E</text>
<text x="126.8" y="268.7" font-size="22.5" stroke="#000" stroke-width="0.25" textLength="60" lengthAdjust="spacingAndGlyphs" fill="#000">MTA-2</text>
<path d="M35.2 276 V344 H222.2" stroke="#666" stroke-width="0.9" fill="none"/>
<text x="30.5" y="346.2" font-size="6.2" text-anchor="end" fill="#000" stroke="#000" stroke-width="0.12">0</text>
<text x="30.5" y="323.4" font-size="6.2" text-anchor="end" fill="#000" stroke="#000" stroke-width="0.12">0.01</text>
<text x="30.5" y="300.8" font-size="6.2" text-anchor="end" fill="#000" stroke="#000" stroke-width="0.12">0.02</text>
<text x="30.5" y="278.2" font-size="6.2" text-anchor="end" fill="#000" stroke="#000" stroke-width="0.12">0.03</text>
<path d="M33 344 h2.4M33 321.2 h2.4M33 298.6 h2.4M33 276 h2.4M35.2 344 v1.8M52.2 344 v1.8M69.2 344 v1.8M86.2 344 v1.8M103.2 344 v1.8M120.2 344 v1.8M137.2 344 v1.8M154.2 344 v1.8M171.2 344 v1.8M188.2 344 v1.8M205.2 344 v1.8M222.2 344 v1.8" stroke="#666" stroke-width="0.9" fill="none"/>
<text transform="translate(11 345.9) rotate(-90)" font-size="12.2" stroke="#000" stroke-width="0.2" textLength="77.4" lengthAdjust="spacingAndGlyphs" fill="#000">fraction of input</text>
<text x="43.7" y="353.2" font-size="6.2" text-anchor="middle" fill="#000" stroke="#000" stroke-width="0.12">-20</text>
<path d="M40.14 339 V337 M39.34 337 h1.6" stroke="#444" stroke-width="0.8" fill="none"/>
<rect x="38.3" y="339.37" width="3.77" height="4.63" fill="#d6d6d6" stroke="#8a8a8a" stroke-width="0.75"/>
<path d="M44.01 329 V324 M43.21 324 h1.6" stroke="#444" stroke-width="0.8" fill="none"/>
<rect x="42.17" y="329.37" width="3.77" height="14.63" fill="#000" stroke="#000" stroke-width="0.75"/>
<path d="M47.88 330 V324.4 M47.08 324.4 h1.6" stroke="#444" stroke-width="0.8" fill="none"/>
<rect x="46.04" y="330.37" width="3.77" height="13.63" fill="#8c8c8c" stroke="#444" stroke-width="0.75"/>
<text x="60.7" y="353.2" font-size="6.2" text-anchor="middle" fill="#000" stroke="#000" stroke-width="0.12">-19</text>
<path d="M57.14 339 V336.6 M56.34 336.6 h1.6" stroke="#444" stroke-width="0.8" fill="none"/>
<rect x="55.3" y="339.37" width="3.77" height="4.63" fill="#d6d6d6" stroke="#8a8a8a" stroke-width="0.75"/>
<path d="M61.01 320.6 V316.6 M60.21 316.6 h1.6" stroke="#444" stroke-width="0.8" fill="none"/>
<rect x="59.17" y="320.97" width="3.77" height="23.03" fill="#000" stroke="#000" stroke-width="0.75"/>
<path d="M64.88 323.4 V311 M64.08 311 h1.6" stroke="#444" stroke-width="0.8" fill="none"/>
<rect x="63.04" y="323.77" width="3.77" height="20.23" fill="#8c8c8c" stroke="#444" stroke-width="0.75"/>
<text x="77.7" y="353.2" font-size="6.2" text-anchor="middle" fill="#000" stroke="#000" stroke-width="0.12">-18</text>
<path d="M74.14 339 V337 M73.34 337 h1.6" stroke="#444" stroke-width="0.8" fill="none"/>
<rect x="72.3" y="339.37" width="3.77" height="4.63" fill="#d6d6d6" stroke="#8a8a8a" stroke-width="0.75"/>
<path d="M78.01 301 V290 M77.21 290 h1.6" stroke="#444" stroke-width="0.8" fill="none"/>
<rect x="76.17" y="301.37" width="3.77" height="42.63" fill="#000" stroke="#000" stroke-width="0.75"/>
<path d="M81.88 293.6 V286.4 M81.08 286.4 h1.6" stroke="#444" stroke-width="0.8" fill="none"/>
<rect x="80.04" y="293.97" width="3.77" height="50.03" fill="#8c8c8c" stroke="#444" stroke-width="0.75"/>
<text x="94.7" y="353.2" font-size="6.2" text-anchor="middle" fill="#000" stroke="#000" stroke-width="0.12">-17</text>
<path d="M91.14 339 V337 M90.34 337 h1.6" stroke="#444" stroke-width="0.8" fill="none"/>
<rect x="89.3" y="339.37" width="3.77" height="4.63" fill="#d6d6d6" stroke="#8a8a8a" stroke-width="0.75"/>
<path d="M95.01 315.6 V308.6 M94.21 308.6 h1.6" stroke="#444" stroke-width="0.8" fill="none"/>
<rect x="93.17" y="315.97" width="3.77" height="28.03" fill="#000" stroke="#000" stroke-width="0.75"/>
<path d="M98.88 319.6 V312.4 M98.08 312.4 h1.6" stroke="#444" stroke-width="0.8" fill="none"/>
<rect x="97.04" y="319.97" width="3.77" height="24.03" fill="#8c8c8c" stroke="#444" stroke-width="0.75"/>
<text x="111.7" y="353.2" font-size="6.2" text-anchor="middle" fill="#000" stroke="#000" stroke-width="0.12">-16</text>
<path d="M108.14 338.6 V336.6 M107.34 336.6 h1.6" stroke="#444" stroke-width="0.8" fill="none"/>
<rect x="106.3" y="338.97" width="3.77" height="5.03" fill="#d6d6d6" stroke="#8a8a8a" stroke-width="0.75"/>
<path d="M112.01 316.4 V315.6 M111.21 315.6 h1.6" stroke="#444" stroke-width="0.8" fill="none"/>
<rect x="110.17" y="316.77" width="3.77" height="27.23" fill="#000" stroke="#000" stroke-width="0.75"/>
<path d="M115.88 325 V321.4 M115.08 321.4 h1.6" stroke="#444" stroke-width="0.8" fill="none"/>
<rect x="114.04" y="325.37" width="3.77" height="18.63" fill="#8c8c8c" stroke="#444" stroke-width="0.75"/>
<text x="128.7" y="353.2" font-size="6.2" text-anchor="middle" fill="#000" stroke="#000" stroke-width="0.12">-14</text>
<path d="M125.14 337 V333.4 M124.34 333.4 h1.6" stroke="#444" stroke-width="0.8" fill="none"/>
<rect x="123.3" y="337.37" width="3.77" height="6.63" fill="#d6d6d6" stroke="#8a8a8a" stroke-width="0.75"/>
<path d="M129 300.4 V292 M128.2 292 h1.6" stroke="#444" stroke-width="0.8" fill="none"/>
<rect x="127.17" y="300.77" width="3.77" height="43.23" fill="#000" stroke="#000" stroke-width="0.75"/>
<path d="M132.88 293 V284 M132.07 284 h1.6" stroke="#444" stroke-width="0.8" fill="none"/>
<rect x="131.04" y="293.37" width="3.77" height="50.63" fill="#8c8c8c" stroke="#444" stroke-width="0.75"/>
<text x="145.7" y="353.2" font-size="6.2" text-anchor="middle" fill="#000" stroke="#000" stroke-width="0.12">-8</text>
<path d="M142.13 341.4 V340 M141.33 340 h1.6" stroke="#444" stroke-width="0.8" fill="none"/>
<rect x="140.3" y="341.77" width="3.77" height="2.23" fill="#d6d6d6" stroke="#8a8a8a" stroke-width="0.75"/>
<path d="M146 328 V324.4 M145.2 324.4 h1.6" stroke="#444" stroke-width="0.8" fill="none"/>
<rect x="144.17" y="328.37" width="3.77" height="15.63" fill="#000" stroke="#000" stroke-width="0.75"/>
<path d="M149.88 336 V335 M149.07 335 h1.6" stroke="#444" stroke-width="0.8" fill="none"/>
<rect x="148.04" y="336.37" width="3.77" height="7.63" fill="#8c8c8c" stroke="#444" stroke-width="0.75"/>
<text x="162.7" y="353.2" font-size="6.2" text-anchor="middle" fill="#000" stroke="#000" stroke-width="0.12">-1.4</text>
<path d="M159.13 341.4 V340 M158.33 340 h1.6" stroke="#444" stroke-width="0.8" fill="none"/>
<rect x="157.3" y="341.77" width="3.77" height="2.23" fill="#d6d6d6" stroke="#8a8a8a" stroke-width="0.75"/>
<path d="M163 327 V318.4 M162.2 318.4 h1.6" stroke="#444" stroke-width="0.8" fill="none"/>
<rect x="161.17" y="327.37" width="3.77" height="16.63" fill="#000" stroke="#000" stroke-width="0.75"/>
<path d="M166.88 336.6 V336 M166.07 336 h1.6" stroke="#444" stroke-width="0.8" fill="none"/>
<rect x="165.04" y="336.97" width="3.77" height="7.03" fill="#8c8c8c" stroke="#444" stroke-width="0.75"/>
<text x="179.7" y="353.2" font-size="6.2" text-anchor="middle" fill="#000" stroke="#000" stroke-width="0.12">0.7</text>
<text x="180.4" y="341.45" font-size="5.8" text-anchor="middle" fill="#000">★</text>
<text x="196.7" y="353.2" font-size="6.2" text-anchor="middle" fill="#000" stroke="#000" stroke-width="0.12">-0.1</text>
<path d="M193.13 338.6 V336.6 M192.33 336.6 h1.6" stroke="#444" stroke-width="0.8" fill="none"/>
<rect x="191.3" y="338.97" width="3.77" height="5.03" fill="#d6d6d6" stroke="#8a8a8a" stroke-width="0.75"/>
<path d="M197 310 V301 M196.2 301 h1.6" stroke="#444" stroke-width="0.8" fill="none"/>
<rect x="195.17" y="310.37" width="3.77" height="33.63" fill="#000" stroke="#000" stroke-width="0.75"/>
<path d="M200.88 294.6 V285 M200.07 285 h1.6" stroke="#444" stroke-width="0.8" fill="none"/>
<rect x="199.04" y="294.97" width="3.77" height="49.03" fill="#8c8c8c" stroke="#444" stroke-width="0.75"/>
<text x="213.7" y="353.2" font-size="6.2" text-anchor="middle" fill="#000" stroke="#000" stroke-width="0.12">+1.3</text>
<path d="M210.13 340.6 V339 M209.33 339 h1.6" stroke="#444" stroke-width="0.8" fill="none"/>
<rect x="208.3" y="340.97" width="3.77" height="3.03" fill="#d6d6d6" stroke="#8a8a8a" stroke-width="0.75"/>
<path d="M214 324.6 V318 M213.2 318 h1.6" stroke="#444" stroke-width="0.8" fill="none"/>
<rect x="212.17" y="324.97" width="3.77" height="19.03" fill="#000" stroke="#000" stroke-width="0.75"/>
<path d="M217.88 334.4 V333.6 M217.07 333.6 h1.6" stroke="#444" stroke-width="0.8" fill="none"/>
<rect x="216.04" y="334.77" width="3.77" height="9.23" fill="#8c8c8c" stroke="#444" stroke-width="0.75"/>
<text x="276.4" y="257.2" font-size="11" font-weight="bold" fill="#000">F</text>
<text x="387.5" y="268" font-size="22.5" stroke="#000" stroke-width="0.25" textLength="47.75" lengthAdjust="spacingAndGlyphs" fill="#000">acH3</text>
<path d="M294.6 277.4 V344.4 H479.95" stroke="#666" stroke-width="0.9" fill="none"/>
<text x="289.9" y="346.6" font-size="6.2" text-anchor="end" fill="#000" stroke="#000" stroke-width="0.12">0</text>
<text x="289.9" y="324.2" font-size="6.2" text-anchor="end" fill="#000" stroke="#000" stroke-width="0.12">0.1</text>
<text x="289.9" y="301.9" font-size="6.2" text-anchor="end" fill="#000" stroke="#000" stroke-width="0.12">0.2</text>
<text x="289.9" y="279.6" font-size="6.2" text-anchor="end" fill="#000" stroke="#000" stroke-width="0.12">0.3</text>
<path d="M292.4 344.4 h2.4M292.4 322 h2.4M292.4 299.7 h2.4M292.4 277.4 h2.4M294.6 344.4 v1.8M311.45 344.4 v1.8M328.3 344.4 v1.8M345.15 344.4 v1.8M362 344.4 v1.8M378.85 344.4 v1.8M395.7 344.4 v1.8M412.55 344.4 v1.8M429.4 344.4 v1.8M446.25 344.4 v1.8M463.1 344.4 v1.8M479.95 344.4 v1.8" stroke="#666" stroke-width="0.9" fill="none"/>
<text x="303.53" y="353.2" font-size="6.2" text-anchor="middle" fill="#000" stroke="#000" stroke-width="0.12">-20</text>
<rect x="297.7" y="343.8" width="3.95" height="0.6" fill="#8a8a8a"/>
<path d="M303.63 335.6 V332 M302.83 332 h1.6" stroke="#444" stroke-width="0.8" fill="none"/>
<rect x="301.75" y="335.97" width="3.85" height="8.43" fill="#000" stroke="#000" stroke-width="0.75"/>
<path d="M307.58 340.4 V339 M306.78 339 h1.6" stroke="#444" stroke-width="0.8" fill="none"/>
<rect x="305.7" y="340.77" width="3.85" height="3.63" fill="#8c8c8c" stroke="#444" stroke-width="0.75"/>
<text x="320.38" y="353.2" font-size="6.2" text-anchor="middle" fill="#000" stroke="#000" stroke-width="0.12">-19</text>
<rect x="314.55" y="343.8" width="3.95" height="0.6" fill="#8a8a8a"/>
<path d="M320.48 330.6 V324.4 M319.68 324.4 h1.6" stroke="#444" stroke-width="0.8" fill="none"/>
<rect x="318.6" y="330.97" width="3.85" height="13.43" fill="#000" stroke="#000" stroke-width="0.75"/>
<path d="M324.43 339 V337 M323.63 337 h1.6" stroke="#444" stroke-width="0.8" fill="none"/>
<rect x="322.55" y="339.37" width="3.85" height="5.03" fill="#8c8c8c" stroke="#444" stroke-width="0.75"/>
<text x="337.23" y="353.2" font-size="6.2" text-anchor="middle" fill="#000" stroke="#000" stroke-width="0.12">-18</text>
<rect x="331.4" y="343.8" width="3.95" height="0.6" fill="#8a8a8a"/>
<path d="M337.33 314.4 V305.6 M336.53 305.6 h1.6" stroke="#444" stroke-width="0.8" fill="none"/>
<rect x="335.45" y="314.77" width="3.85" height="29.63" fill="#000" stroke="#000" stroke-width="0.75"/>
<path d="M341.28 325 V324.4 M340.48 324.4 h1.6" stroke="#444" stroke-width="0.8" fill="none"/>
<rect x="339.4" y="325.37" width="3.85" height="19.03" fill="#8c8c8c" stroke="#444" stroke-width="0.75"/>
<text x="354.08" y="353.2" font-size="6.2" text-anchor="middle" fill="#000" stroke="#000" stroke-width="0.12">-17</text>
<rect x="348.25" y="343.8" width="3.95" height="0.6" fill="#8a8a8a"/>
<path d="M354.18 321.4 V313 M353.38 313 h1.6" stroke="#444" stroke-width="0.8" fill="none"/>
<rect x="352.3" y="321.77" width="3.85" height="22.63" fill="#000" stroke="#000" stroke-width="0.75"/>
<path d="M358.13 333 V330 M357.33 330 h1.6" stroke="#444" stroke-width="0.8" fill="none"/>
<rect x="356.25" y="333.37" width="3.85" height="11.03" fill="#8c8c8c" stroke="#444" stroke-width="0.75"/>
<text x="370.93" y="353.2" font-size="6.2" text-anchor="middle" fill="#000" stroke="#000" stroke-width="0.12">-16</text>
<rect x="365.1" y="343.8" width="3.95" height="0.6" fill="#8a8a8a"/>
<path d="M371.03 337.4 V332 M370.23 332 h1.6" stroke="#444" stroke-width="0.8" fill="none"/>
<rect x="369.15" y="337.77" width="3.85" height="6.63" fill="#000" stroke="#000" stroke-width="0.75"/>
<path d="M374.98 341.4 V338.6 M374.18 338.6 h1.6" stroke="#444" stroke-width="0.8" fill="none"/>
<rect x="373.1" y="341.77" width="3.85" height="2.63" fill="#8c8c8c" stroke="#444" stroke-width="0.75"/>
<text x="387.78" y="353.2" font-size="6.2" text-anchor="middle" fill="#000" stroke="#000" stroke-width="0.12">-14</text>
<rect x="381.95" y="343.6" width="3.95" height="0.8" fill="#8a8a8a"/>
<path d="M387.88 311.4 V297 M387.08 297 h1.6" stroke="#444" stroke-width="0.8" fill="none"/>
<rect x="386" y="311.77" width="3.85" height="32.63" fill="#000" stroke="#000" stroke-width="0.75"/>
<path d="M391.83 330.4 V327 M391.03 327 h1.6" stroke="#444" stroke-width="0.8" fill="none"/>
<rect x="389.95" y="330.77" width="3.85" height="13.63" fill="#8c8c8c" stroke="#444" stroke-width="0.75"/>
<text x="404.63" y="353.2" font-size="6.2" text-anchor="middle" fill="#000" stroke="#000" stroke-width="0.12">-8</text>
<rect x="398.8" y="343.8" width="3.95" height="0.6" fill="#8a8a8a"/>
<path d="M404.73 334.4 V331 M403.93 331 h1.6" stroke="#444" stroke-width="0.8" fill="none"/>
<rect x="402.85" y="334.77" width="3.85" height="9.63" fill="#000" stroke="#000" stroke-width="0.75"/>
<path d="M408.68 339 V337.6 M407.88 337.6 h1.6" stroke="#444" stroke-width="0.8" fill="none"/>
<rect x="406.8" y="339.37" width="3.85" height="5.03" fill="#8c8c8c" stroke="#444" stroke-width="0.75"/>
<text x="421.48" y="353.2" font-size="6.2" text-anchor="middle" fill="#000" stroke="#000" stroke-width="0.12">-1.4</text>
<rect x="415.65" y="343.8" width="3.95" height="0.6" fill="#8a8a8a"/>
<path d="M421.58 335.6 V332 M420.78 332 h1.6" stroke="#444" stroke-width="0.8" fill="none"/>
<rect x="419.7" y="335.97" width="3.85" height="8.43" fill="#000" stroke="#000" stroke-width="0.75"/>
<path d="M425.53 340.4 V339.8 M424.73 339.8 h1.6" stroke="#444" stroke-width="0.8" fill="none"/>
<rect x="423.65" y="340.77" width="3.85" height="3.63" fill="#8c8c8c" stroke="#444" stroke-width="0.75"/>
<text x="438.33" y="353.2" font-size="6.2" text-anchor="middle" fill="#000" stroke="#000" stroke-width="0.12">-0.1</text>
<rect x="432.5" y="343.6" width="3.95" height="0.8" fill="#8a8a8a"/>
<path d="M438.43 301.6 V296 M437.63 296 h1.6" stroke="#444" stroke-width="0.8" fill="none"/>
<rect x="436.55" y="301.97" width="3.85" height="42.43" fill="#000" stroke="#000" stroke-width="0.75"/>
<path d="M442.38 325.8 V324.6 M441.58 324.6 h1.6" stroke="#444" stroke-width="0.8" fill="none"/>
<rect x="440.5" y="326.17" width="3.85" height="18.23" fill="#8c8c8c" stroke="#444" stroke-width="0.75"/>
<text x="455.18" y="353.2" font-size="6.2" text-anchor="middle" fill="#000" stroke="#000" stroke-width="0.12">+0.7</text>
<text x="454.6" y="341.95" font-size="5.8" text-anchor="middle" fill="#000">★</text>
<text x="472.03" y="353.2" font-size="6.2" text-anchor="middle" fill="#000" stroke="#000" stroke-width="0.12">+1.3</text>
<rect x="466.2" y="343.8" width="3.95" height="0.6" fill="#8a8a8a"/>
<path d="M472.13 301.6 V290.6 M471.33 290.6 h1.6" stroke="#444" stroke-width="0.8" fill="none"/>
<rect x="470.25" y="301.97" width="3.85" height="42.43" fill="#000" stroke="#000" stroke-width="0.75"/>
<path d="M476.08 329.4 V328.6 M475.28 328.6 h1.6" stroke="#444" stroke-width="0.8" fill="none"/>
<rect x="474.2" y="329.77" width="3.85" height="14.63" fill="#8c8c8c" stroke="#444" stroke-width="0.75"/>
<rect x="177.5" y="377" width="9.5" height="8.8" fill="#c6c6c6"/>
<rect x="177.5" y="394.2" width="9.5" height="8.8" fill="#000"/>
<rect x="263.6" y="377.4" width="9" height="8.2" fill="#fff" stroke="#d0d0d0" stroke-width="0.8"/>
<rect x="263.2" y="394.2" width="9.8" height="8.8" fill="#858585"/>
<text x="194.5" y="386.3" font-size="14" textLength="23" lengthAdjust="spacingAndGlyphs" fill="#000">IgG</text>
<text x="193.5" y="403.3" font-size="14" textLength="42.5" lengthAdjust="spacingAndGlyphs" fill="#000">G1ME</text>
<text x="279.8" y="386.3" font-size="14" textLength="78.8" lengthAdjust="spacingAndGlyphs" fill="#000">GATA1 24h</text>
<text x="279.8" y="403.3" font-size="14" textLength="78.8" lengthAdjust="spacingAndGlyphs" fill="#000">GATA1 48h</text>
</svg>
</body></html>
